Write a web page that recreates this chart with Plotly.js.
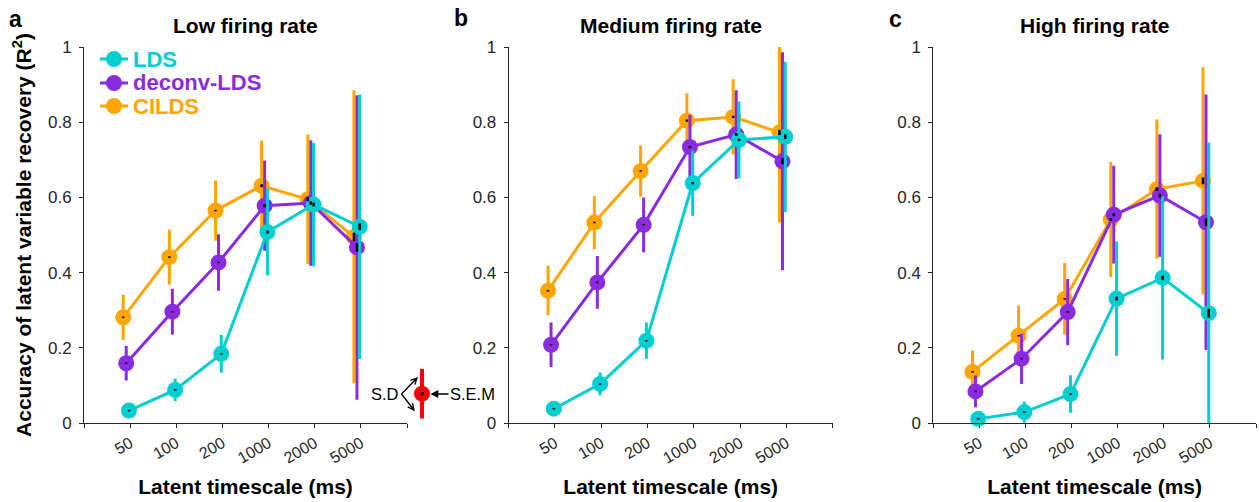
<!DOCTYPE html>
<html>
<head>
<meta charset="utf-8">
<script src="https://cdn.plot.ly/plotly-3.0.1.min.js"></script>
<style>
  html, body { margin: 0; padding: 0; background: #fff; }
  #chart { width: 1259px; height: 502px; }
</style>
</head>
<body>
<div id="chart"></div>
<script>
// ---------------- data ----------------
const categories = ['50', '100', '200', '1000', '2000', '5000'];
const seriesNames = ['CILDS', 'deconv-LDS', 'LDS'];
const panelTitles = ['Low firing rate', 'Medium firing rate', 'High firing rate'];
const panelLetters = ['a', 'b', 'c'];

// Low firing rate
const lowLDS = [0.033, 0.088, 0.184, 0.508, 0.581, 0.522];
const lowLDS_sd = [0.008, 0.030, 0.050, 0.115, 0.164, 0.352];
const lowLDS_sem = [0.002, 0.002, 0.002, 0.004, 0.005, 0.009];
const lowDeconv = [0.159, 0.296, 0.427, 0.578, 0.585, 0.467];
const lowDeconv_sd = [0.046, 0.061, 0.075, 0.120, 0.167, 0.405];
const lowDeconv_sem = [0.002, 0.002, 0.002, 0.004, 0.005, 0.011];
const lowCILDS = [0.281, 0.441, 0.565, 0.631, 0.595, 0.495];
const lowCILDS_sd = [0.060, 0.073, 0.080, 0.120, 0.172, 0.389];
const lowCILDS_sem = [0.002, 0.002, 0.002, 0.004, 0.005, 0.011];

// Medium firing rate
const medLDS = [0.038, 0.104, 0.219, 0.638, 0.753, 0.761];
const medLDS_sd = [0.008, 0.030, 0.048, 0.087, 0.102, 0.200];
const medLDS_sem = [0.002, 0.002, 0.002, 0.003, 0.003, 0.006];
const medDeconv = [0.208, 0.374, 0.527, 0.734, 0.767, 0.696];
const medDeconv_sd = [0.059, 0.070, 0.073, 0.086, 0.118, 0.290];
const medDeconv_sem = [0.002, 0.002, 0.002, 0.003, 0.004, 0.008];
const medCILDS = [0.352, 0.533, 0.670, 0.804, 0.814, 0.773];
const medCILDS_sd = [0.066, 0.071, 0.068, 0.073, 0.100, 0.240];
const medCILDS_sem = [0.002, 0.002, 0.002, 0.003, 0.003, 0.007];

// High firing rate
const highLDS = [0.011, 0.029, 0.077, 0.331, 0.386, 0.292];
const highLDS_sd = [0.006, 0.028, 0.050, 0.152, 0.217, 0.454];
const highLDS_sem = [0.002, 0.002, 0.002, 0.005, 0.006, 0.012];
const highDeconv = [0.084, 0.171, 0.295, 0.554, 0.605, 0.534];
const highDeconv_sd = [0.042, 0.067, 0.088, 0.130, 0.163, 0.340];
const highDeconv_sem = [0.002, 0.002, 0.002, 0.004, 0.005, 0.010];
const highCILDS = [0.136, 0.232, 0.330, 0.541, 0.622, 0.644];
const highCILDS_sd = [0.057, 0.080, 0.095, 0.153, 0.185, 0.302];
const highCILDS_sem = [0.002, 0.002, 0.002, 0.004, 0.005, 0.009];

// S.D / S.E.M key marker
const keyMean = [0.078];
const keySD = [0.066];
const keySEM = [0.004];

// ---------------- styling ----------------
const FONT = 'Liberation Sans, Arial, Helvetica, sans-serif';
const AX = '#262626';
const colors = { 'LDS': '#00CED1', 'deconv-LDS': '#8A2BE2', 'CILDS': '#FFA500' };
const offsets = { 'CILDS': -0.15, 'deconv-LDS': -0.085, 'LDS': -0.025 };

const panels = [
  { CILDS: [lowCILDS, lowCILDS_sd, lowCILDS_sem], 'deconv-LDS': [lowDeconv, lowDeconv_sd, lowDeconv_sem], LDS: [lowLDS, lowLDS_sd, lowLDS_sem] },
  { CILDS: [medCILDS, medCILDS_sd, medCILDS_sem], 'deconv-LDS': [medDeconv, medDeconv_sd, medDeconv_sem], LDS: [medLDS, medLDS_sd, medLDS_sem] },
  { CILDS: [highCILDS, highCILDS_sd, highCILDS_sem], 'deconv-LDS': [highDeconv, highDeconv_sd, highDeconv_sem], LDS: [highLDS, highLDS_sd, highLDS_sem] }
];

const traces = [];
const semTraces = [];
panels.forEach((p, pi) => {
  const xa = pi === 0 ? 'x' : 'x' + (pi + 1);
  const ya = pi === 0 ? 'y' : 'y' + (pi + 1);
  seriesNames.forEach(name => {
    const [m, sd, sem] = p[name];
    const xs = categories.map((c, i) => i + 1 + offsets[name]);
    traces.push({
      type: 'scatter', mode: 'lines+markers', name: name, showlegend: false,
      x: xs, y: m, xaxis: xa, yaxis: ya, cliponaxis: false,
      line: { color: colors[name], width: 3 },
      marker: { color: colors[name], size: 16, line: { width: 0 } },
      error_y: {
        type: 'data', symmetric: false,
        array: sd.map((s, i) => Math.min(s, 1 - m[i])),
        arrayminus: sd.map((s, i) => Math.min(s, m[i])),
        color: colors[name], thickness: 3, width: 0
      },
      hoverinfo: 'skip'
    });
    semTraces.push({
      type: 'scatter', mode: 'markers', showlegend: false,
      x: xs, y: m, xaxis: xa, yaxis: ya, cliponaxis: false,
      marker: { size: 1, color: 'rgba(0,0,0,0)' },
      error_y: { type: 'data', array: sem, color: '#000', thickness: 2.5, width: 0 },
      hoverinfo: 'skip'
    });
  });
});
traces.push(...semTraces);

// key marker (S.D / S.E.M illustration) on its own hidden axes right of panel a
traces.push({
  type: 'scatter', mode: 'markers', showlegend: false, x: [0.5], y: keyMean,
  xaxis: 'x4', yaxis: 'y4', cliponaxis: false,
  marker: { color: '#FF0000', size: 16 },
  error_y: { type: 'data', array: keySD, color: '#FF0000', thickness: 4, width: 0 },
  hoverinfo: 'skip'
});
traces.push({
  type: 'scatter', mode: 'markers', showlegend: false, x: [0.5], y: keyMean,
  xaxis: 'x4', yaxis: 'y4', cliponaxis: false,
  marker: { size: 1, color: 'rgba(0,0,0,0)' },
  error_y: { type: 'data', array: keySEM, color: '#000', thickness: 3, width: 0 },
  hoverinfo: 'skip'
});

// ---------------- layout ----------------
const L = 84, T = 47, W = 1259, H = 502, B = 79, R = 3;
const PW = W - L - R, PH = H - T - B;
const px = v => (v - L) / PW;           // pixel x -> paper
const py = v => (H - B - v) / PH;       // pixel y -> paper

const xDomains = [[px(84), px(407)], [px(508.7), px(832.7)], [px(933.3), px(1256)]];

function xAxis(i) {
  return {
    domain: xDomains[i], range: [0, 7], anchor: i === 0 ? 'y' : 'y' + (i + 1),
    tickvals: [1, 2, 3, 4, 5, 6], ticktext: categories,
    ticks: 'outside', ticklen: 4, tickwidth: 1, tickcolor: AX,
    minor: { tick0: 0, dtick: 1, ticks: 'outside', ticklen: 4, tickwidth: 1, tickcolor: AX, showgrid: false },
    showline: true, linecolor: AX, linewidth: 1, showgrid: false, zeroline: false,
    tickangle: -30, tickfont: { family: FONT, size: 16, color: AX },
    title: { text: 'Latent timescale (ms)', font: { family: FONT, size: 21, color: '#000', weight: 700 }, standoff: 13 },
    fixedrange: true
  };
}
function yAxis(i) {
  const ax = {
    domain: [0, 1], range: [0, 1], anchor: i === 0 ? 'x' : 'x' + (i + 1),
    tickvals: [0, 0.2, 0.4, 0.6, 0.8, 1], ticktext: ['0', '0.2', '0.4', '0.6', '0.8', '1'],
    ticks: 'outside', ticklen: 4, tickwidth: 1, tickcolor: AX,
    showline: true, linecolor: AX, linewidth: 1, showgrid: false, zeroline: false,
    tickfont: { family: FONT, size: 17, color: AX }, ticklabelstandoff: 4,
    fixedrange: true
  };
  if (i === 0) {
    ax.title = { text: 'Accuracy of latent variable recovery (R<sup>2</sup>)', font: { family: FONT, size: 21, color: '#000', weight: 700 }, standoff: 10 };
  }
  return ax;
}

const annotations = [];
const shapes = [];
['x', 'x2', 'x3'].forEach((xr, i) => {
  annotations.push({
    text: panelTitles[i], xref: xr + ' domain', yref: 'paper', x: 0.5, y: py(25.5),
    xanchor: 'center', yanchor: 'middle', showarrow: false,
    font: { family: FONT, size: 21, color: '#000', weight: 700 }
  });
});
[[15, 19], [461, 18], [895, 19]].forEach((p, i) => {
  annotations.push({
    text: panelLetters[i], xref: 'paper', yref: 'paper', x: px(p[0]), y: py(p[1]),
    xanchor: 'center', yanchor: 'middle', showarrow: false,
    font: { family: FONT, size: 23, color: '#000', weight: 700 }
  });
});

// manual legend (panel a, top-left)
const legendOrder = ['LDS', 'deconv-LDS', 'CILDS'];
const legendRows = [59, 83, 106];
legendOrder.forEach((name, i) => {
  const yy = py(legendRows[i]);
  shapes.push({ type: 'line', xref: 'paper', yref: 'paper', x0: px(100), x1: px(128), y0: yy, y1: yy,
    line: { color: colors[name], width: 3 } });
  shapes.push({ type: 'circle', xref: 'paper', yref: 'paper', xsizemode: 'pixel', ysizemode: 'pixel',
    xanchor: px(114), yanchor: yy, x0: -8, x1: 8, y0: -8, y1: 8,
    fillcolor: colors[name], line: { width: 0 } });
  annotations.push({ text: name, xref: 'paper', yref: 'paper', x: px(131), y: yy,
    xanchor: 'left', yanchor: 'middle', showarrow: false,
    font: { family: FONT, size: 22, color: colors[name], weight: 700 } });
});

// S.D / S.E.M labels and arrows
function arrowPath(tx, ty, hx, hy) {
  const ang = Math.atan2(hy - ty, hx - tx);
  const hl = 7, spread = 0.45;
  const a1x = hx - hl * Math.cos(ang - spread), a1y = hy - hl * Math.sin(ang - spread);
  const a2x = hx - hl * Math.cos(ang + spread), a2y = hy - hl * Math.sin(ang + spread);
  return `M${px(tx)},${py(ty)} L${px(hx)},${py(hy)} M${px(a1x)},${py(a1y)} L${px(hx)},${py(hy)} L${px(a2x)},${py(a2y)}`;
}
shapes.push({ type: 'path', xref: 'paper', yref: 'paper', path: arrowPath(401.5, 394, 417, 378), line: { color: '#000', width: 1.3 } });
shapes.push({ type: 'path', xref: 'paper', yref: 'paper', path: arrowPath(401.5, 394, 414, 410), line: { color: '#000', width: 1.3 } });
annotations.push({ text: 'S.D', xref: 'paper', yref: 'paper', x: px(384.5), y: py(394), showarrow: false,
  xanchor: 'center', yanchor: 'middle', font: { family: FONT, size: 16.5, color: '#000' } });
annotations.push({ text: 'S.E.M', xref: 'paper', yref: 'paper', x: px(430.5), y: py(394), ax: 42, ay: 0,
  showarrow: true, arrowhead: 2, arrowsize: 1.2, arrowwidth: 1.3, arrowcolor: '#000', standoff: 0,
  font: { family: FONT, size: 16.5, color: '#000' } });

const layout = {
  width: W, height: H,
  margin: { l: L, r: R, t: T, b: B },
  paper_bgcolor: '#fff', plot_bgcolor: 'rgba(0,0,0,0)',
  showlegend: false,
  font: { family: FONT, color: AX },
  xaxis: xAxis(0), xaxis2: xAxis(1), xaxis3: xAxis(2),
  yaxis: yAxis(0), yaxis2: yAxis(1), yaxis3: yAxis(2),
  xaxis4: { domain: [px(410), px(434)], range: [0, 1], anchor: 'y4', visible: false, fixedrange: true },
  yaxis4: { domain: [0, 1], range: [0, 1], anchor: 'x4', visible: false, fixedrange: true },
  annotations: annotations, shapes: shapes
};

Plotly.newPlot('chart', traces, layout, { staticPlot: true, displayModeBar: false });
</script>
</body>
</html>
